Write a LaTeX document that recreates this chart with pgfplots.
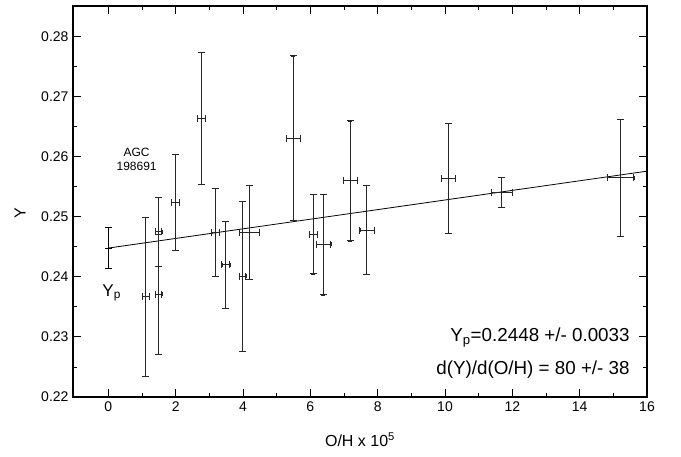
\documentclass[border=0pt]{standalone}
\usepackage{pgfplots}
\usepackage{pgfplotstable}
\pgfplotsset{compat=1.18}
\usepackage{fontspec}
\setmainfont{Liberation Sans}
\pgfplotstableread{
x     y      ex    ey
1.11  0.2367 0.10  0.0132
1.49  0.2475 0.10  0.0057
1.49  0.2371 0.10  0.0100
1.98  0.2524 0.12  0.0080
2.77  0.2664 0.12  0.0110
3.17  0.2474 0.12  0.0073
3.49  0.2420 0.12  0.0072
3.98  0.2401 0.10  0.0125
4.19  0.2474 0.29  0.0078
5.49  0.2631 0.21  0.0137
6.09  0.2471 0.12  0.0066
6.39  0.2454 0.22  0.0084
7.19  0.2560 0.21  0.0100
7.68  0.2478 0.21  0.0074
10.10 0.2564 0.21  0.0092
11.69 0.2541 0.31  0.0025
15.21 0.2565 0.40  0.0097
}\data
\pgfplotstableread{
x  y      ex ey
0  0.2448 0  0.0034
}\yp
\begin{document}
\begin{tikzpicture}
\path[use as bounding box] (-73pt,-59pt) rectangle (608pt,397pt);
\begin{axis}[
  at={(0,0)}, anchor=south west,
  scale only axis,
  width=574pt, height=391pt,
  xmin=-1.05, xmax=16,
  ymin=0.22, ymax=0.2851,
  xtick={0,2,...,16},
  ytick={0.22,0.23,0.24,0.25,0.26,0.27,0.28},
  minor x tick num=1,
  minor y tick num=1,
  tick align=inside,
  xtick pos=both, ytick pos=both,
  xticklabel pos=bottom, yticklabel pos=left,
  major tick length=8pt,
  minor tick length=4pt,
  every tick/.style={black, line width=0.9pt},
  axis line style={line width=1.2pt},
  /pgf/number format/assume math mode=true,
  yticklabel style={/pgf/number format/fixed, /pgf/number format/fixed zerofill, /pgf/number format/precision=2, xshift=-1pt},
  xticklabel style={/pgf/number format/fixed, yshift=-1pt},
  tick label style={font=\fontsize{14}{16}\selectfont},
  xlabel={O/H x 10\textsuperscript{5}},
  ylabel={Y},
  label style={font=\fontsize{16}{19}\selectfont},
  xlabel style={yshift=-14pt},
  ylabel style={at={(axis description cs:-0.0923,0.47)}, anchor=center},
  clip=false,
]
% fit line
\addplot[black, line width=0.8pt] coordinates {(0,0.2448) (16,0.2576)};
% Yp point (y error only)
\addplot[black, only marks, mark=-, mark size=3.5pt, mark options={line width=0.9pt},
  error bars/.cd, y dir=both, y explicit,
  error bar style={line width=0.9pt, draw=black}]
  table[x=x, y=y, y error=ey]{\yp};
\addplot[black, only marks, mark=-, mark size=3.5pt, mark options={line width=0.9pt}]
  table[x=x, y expr=\thisrow{y}+\thisrow{ey}]{\yp};
\addplot[black, only marks, mark=-, mark size=3.5pt, mark options={line width=0.9pt}]
  table[x=x, y expr=\thisrow{y}-\thisrow{ey}]{\yp};
% data points: bars
\addplot[black!85, only marks, mark=-, mark size=2pt, mark options={line width=0.85pt},
  error bars/.cd, x dir=both, x explicit, y dir=both, y explicit,
  error bar style={line width=0.85pt, draw=black!85}]
  table[x=x, y=y, x error=ex, y error=ey]{\data};
% caps on vertical bars
\addplot[black!85, only marks, mark=-, mark size=3.5pt, mark options={line width=0.85pt}]
  table[x=x, y expr=\thisrow{y}+\thisrow{ey}]{\data};
\addplot[black!85, only marks, mark=-, mark size=3.5pt, mark options={line width=0.85pt}]
  table[x=x, y expr=\thisrow{y}-\thisrow{ey}]{\data};
% caps on horizontal bars
\addplot[black!85, only marks, mark=|, mark size=3.5pt, mark options={line width=0.85pt}]
  table[x expr=\thisrow{x}+\thisrow{ex}, y=y]{\data};
\addplot[black!85, only marks, mark=|, mark size=3.5pt, mark options={line width=0.85pt}]
  table[x expr=\thisrow{x}-\thisrow{ex}, y=y]{\data};
\node[anchor=base, align=center, font=\fontsize{12}{14}\selectfont] at (axis cs:0.84,0.2577) {AGC\\198691};
\node[anchor=base west, inner sep=0pt, font=\fontsize{17}{20}\selectfont] at (axis cs:-0.18,0.2368) {Y\textsubscript{p}};
\node[anchor=base east, inner sep=0pt, font=\fontsize{18.8}{22}\selectfont] at (axis cs:15.49,0.2292) {Y\textsubscript{p}=0.2448 +/- 0.0033};
\node[anchor=base east, inner sep=0pt, font=\fontsize{18.8}{22}\selectfont] at (axis cs:15.49,0.2238) {d(Y)/d(O/H) = 80 +/- 38};
\end{axis}
\end{tikzpicture}
\end{document}
